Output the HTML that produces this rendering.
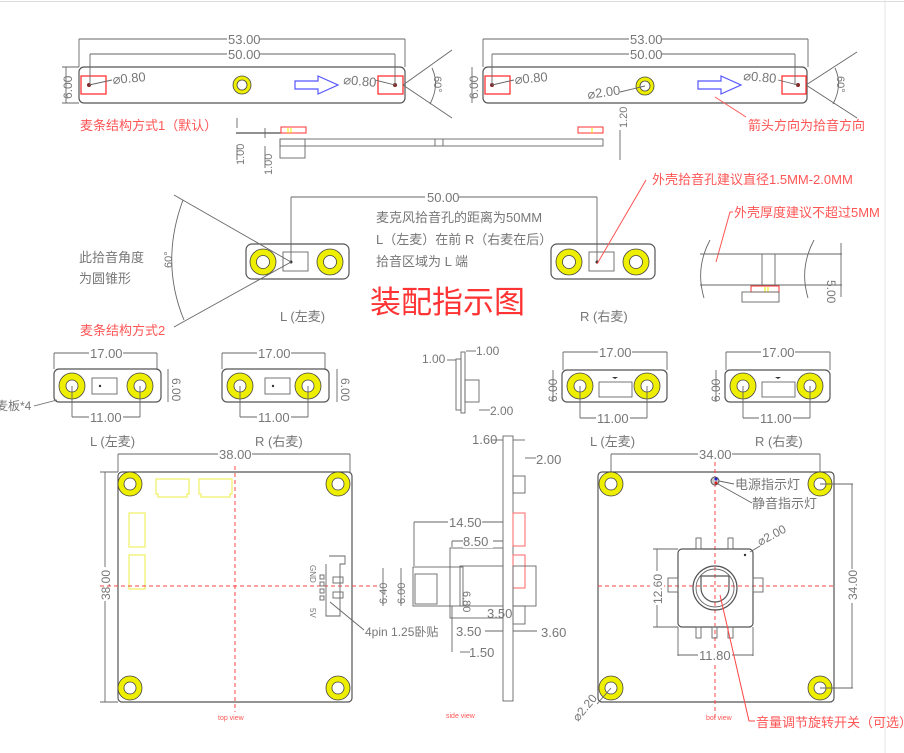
<!DOCTYPE html>
<html><head><meta charset="utf-8"><style>
html,body{margin:0;padding:0;background:#fff;width:904px;height:753px;overflow:hidden}
svg{display:block}
text{font-family:"Liberation Sans","Noto Sans CJK SC",sans-serif;fill:#777}
.r{fill:#f55}
.l{stroke:#555;stroke-width:1.2;fill:none}
.t{stroke:#666;stroke-width:0.9;fill:none}
.ring{fill:#ee0;stroke:#444;stroke-width:.8}
.hole{fill:#fff;stroke:#444;stroke-width:.8}
.rd{stroke:#f33;fill:none;stroke-width:1.3}
.dash{stroke:#f44;stroke-width:1;stroke-dasharray:4 3;fill:none}
</style></head><body>
<svg width="904" height="753" viewBox="0 0 904 753" xmlns="http://www.w3.org/2000/svg">
<line x1="0" y1="1.5" x2="904" y2="1.5" stroke="#ddd"/>
<line x1="885" y1="0" x2="885" y2="753" stroke="#e6e6e6"/>

<g>
<rect x="79" y="67" width="326" height="36" rx="5" class="l"/>
<rect x="81" y="76" width="25" height="18" class="rd"/>
<rect x="378" y="76" width="25" height="18" class="rd"/>
<circle cx="89" cy="85" r="2" fill="#822"/><circle cx="395" cy="85" r="2" fill="#822"/>
<line x1="89" y1="85" x2="112" y2="80" class="t"/><line x1="395" y1="85" x2="375" y2="80" class="t"/>
<text x="113" y="84" font-size="13" transform="rotate(-5 113 84)">⌀0.80</text>
<text x="343" y="84" font-size="13" transform="rotate(5 343 84)">⌀0.80</text>
<circle cx="242" cy="85" r="9" class="ring"/><circle cx="242" cy="85" r="5" class="hole"/>
<path d="M295 81h23v-5l20 9-20 9v-5h-23z" fill="none" stroke="#55f" stroke-width="1.2"/>
<line x1="79" y1="39" x2="405" y2="39" class="t"/><line x1="79" y1="39" x2="79" y2="67" class="t"/><line x1="405" y1="39" x2="405" y2="67" class="t"/>
<rect x="227" y="31" width="32" height="14" fill="#fff"/><text x="228" y="44" font-size="13">53.00</text>
<line x1="90" y1="54" x2="395" y2="54" class="t"/><line x1="90" y1="54" x2="90" y2="85" class="t"/><line x1="395" y1="54" x2="395" y2="85" class="t"/>
<rect x="227" y="46" width="32" height="14" fill="#fff"/><text x="228" y="59" font-size="13">50.00</text>
<line x1="66" y1="67" x2="66" y2="103" class="t"/><line x1="62" y1="67" x2="79" y2="67" class="t"/><line x1="62" y1="103" x2="79" y2="103" class="t"/>
<text x="72" y="99" font-size="12" transform="rotate(-90 72 99)">6.00</text>
<line x1="403" y1="85" x2="452" y2="50" class="t"/><line x1="403" y1="85" x2="452" y2="118" class="t"/>
<path d="M432 68 Q440 85 430 104" class="t"/>
<text x="434" y="76" font-size="11" transform="rotate(90 434 76)">60°</text>
<text x="80" y="130" font-size="13" class="r">麦条结构方式1（默认）</text>
</g>

<g>
<line x1="236" y1="133" x2="306" y2="133" stroke="#222" stroke-width="1"/>
<rect x="281" y="127" width="25" height="6" fill="#fff" stroke="#f33"/>
<line x1="288" y1="128" x2="288" y2="133" stroke="#ee0"/><line x1="291" y1="128" x2="291" y2="133" stroke="#ee0"/>
<rect x="280" y="139" width="323" height="7" class="t"/>
<line x1="435" y1="139" x2="435" y2="146" class="t"/><line x1="443" y1="139" x2="443" y2="146" class="t"/>
<rect x="280" y="139" width="25" height="19" class="t"/>
<line x1="237" y1="118" x2="237" y2="128" class="t"/><line x1="265" y1="128" x2="265" y2="138" class="t"/>
<line x1="237" y1="145" x2="237" y2="160" class="t"/><line x1="265" y1="146" x2="265" y2="168" class="t"/>
<text x="244" y="165" font-size="11" transform="rotate(-90 244 165)">1.00</text>
<text x="272" y="175" font-size="11" transform="rotate(-90 272 175)">1.00</text>
<rect x="578" y="127" width="25" height="6" fill="#fff" stroke="#f33"/>
<line x1="592" y1="128" x2="592" y2="133" stroke="#ee0"/>
<line x1="620" y1="130" x2="620" y2="160" class="t"/>
<text x="627" y="128" font-size="11" transform="rotate(-90 627 128)">1.20</text>
</g>

<g>
<rect x="483" y="67" width="324" height="36" rx="5" class="l"/>
<rect x="485" y="76" width="25" height="18" class="rd"/>
<rect x="782" y="76" width="24" height="18" class="rd"/>
<circle cx="492" cy="85" r="2" fill="#822"/><circle cx="798" cy="85" r="2" fill="#822"/>
<line x1="492" y1="85" x2="514" y2="80" class="t"/><line x1="798" y1="85" x2="778" y2="80" class="t"/>
<text x="515" y="84" font-size="13" transform="rotate(-5 515 84)">⌀0.80</text>
<text x="743" y="80" font-size="13" transform="rotate(5 743 80)">⌀0.80</text>
<circle cx="645" cy="86" r="9" class="ring"/><circle cx="645" cy="86" r="5" class="hole"/>
<line x1="620" y1="92" x2="645" y2="86" class="t"/>
<text x="588" y="99" font-size="13" transform="rotate(-8 588 99)">⌀2.00</text>
<path d="M698 81h23v-5l20 9-20 9v-5h-23z" fill="none" stroke="#55f" stroke-width="1.2"/>
<line x1="715" y1="97" x2="746" y2="117" stroke="#f55"/>
<text x="748" y="130" font-size="13" class="r">箭头方向为拾音方向</text>
<line x1="483" y1="39" x2="808" y2="39" class="t"/><line x1="483" y1="39" x2="483" y2="67" class="t"/><line x1="808" y1="39" x2="808" y2="67" class="t"/>
<rect x="629" y="31" width="32" height="14" fill="#fff"/><text x="630" y="44" font-size="13">53.00</text>
<line x1="492" y1="54" x2="795" y2="54" class="t"/><line x1="492" y1="54" x2="492" y2="85" class="t"/><line x1="795" y1="54" x2="795" y2="85" class="t"/>
<rect x="629" y="46" width="32" height="14" fill="#fff"/><text x="630" y="59" font-size="13">50.00</text>
<line x1="472" y1="67" x2="472" y2="103" class="t"/>
<text x="478" y="99" font-size="12" transform="rotate(-90 478 99)">6.00</text>
<line x1="806" y1="85" x2="857" y2="52" class="t"/><line x1="806" y1="85" x2="857" y2="118" class="t"/>
<path d="M835 68 Q843 85 833 104" class="t"/>
<text x="837" y="76" font-size="11" transform="rotate(90 837 76)">60°</text>
</g>

<g>
<line x1="291" y1="197" x2="597" y2="197" class="t"/><line x1="291" y1="197" x2="291" y2="262" class="t"/><line x1="597" y1="197" x2="597" y2="262" class="t"/>
<rect x="425" y="189" width="34" height="14" fill="#fff"/><text x="427" y="202" font-size="13">50.00</text>
<text x="376" y="222" font-size="13">麦克风拾音孔的距离为50MM</text>
<text x="376" y="244" font-size="13">L（左麦）在前  R（右麦在后）</text>
<text x="376" y="266" font-size="13">拾音区域为 L 端</text>
<text x="370" y="313" font-size="31" class="r" style="fill:#f33">装配指示图</text>

<rect x="246" y="244" width="103" height="35" rx="6" class="l"/>
<circle cx="263" cy="262" r="13" class="ring"/><circle cx="263" cy="262" r="6.5" class="hole"/>
<circle cx="330" cy="262" r="13" class="ring"/><circle cx="330" cy="262" r="6.5" class="hole"/>
<rect x="283" y="252" width="25" height="19" class="t"/>
<circle cx="291" cy="262" r="1.5" fill="#333"/>
<line x1="291" y1="262" x2="174" y2="195" class="t"/><line x1="291" y1="262" x2="174" y2="327" class="t"/>
<path d="M183 200 Q160 262 184 320" class="t"/>
<text x="166" y="262" font-size="11" transform="rotate(-90 172 262)">60°</text>
<text x="79" y="262" font-size="13">此拾音角度</text>
<text x="79" y="283" font-size="13">为圆锥形</text>
<text x="280" y="321" font-size="13">L (左麦)</text>
<text x="80" y="335" font-size="13" class="r">麦条结构方式2</text>

<rect x="551" y="244" width="104" height="35" rx="6" class="l"/>
<circle cx="569" cy="262" r="13" class="ring"/><circle cx="569" cy="262" r="6.5" class="hole"/>
<circle cx="636" cy="262" r="13" class="ring"/><circle cx="636" cy="262" r="6.5" class="hole"/>
<rect x="589" y="252" width="25" height="19" class="t"/>
<circle cx="597" cy="262" r="1.5" fill="#333"/>
<text x="580" y="321" font-size="13">R (右麦)</text>
<line x1="597" y1="264" x2="646" y2="180" stroke="#f55"/>
<text x="652" y="184" font-size="13" class="r">外壳拾音孔建议直径1.5MM-2.0MM</text>
<path d="M733 212 h-3 L716 262" stroke="#f55" fill="none"/>
<text x="734" y="217" font-size="13" class="r">外壳厚度建议不超过5MM</text>

<line x1="700" y1="254" x2="842" y2="254" class="t"/><line x1="700" y1="285" x2="842" y2="285" class="t"/>
<path d="M710 240 Q695 268 704 298" class="t"/><path d="M814 240 Q799 268 808 298" class="t"/>
<rect x="762" y="254" width="13" height="31" class="t"/>
<rect x="751" y="286" width="28" height="6" fill="#fff" stroke="#f33"/>
<line x1="765" y1="287" x2="765" y2="292" stroke="#ee0"/><line x1="768" y1="287" x2="768" y2="292" stroke="#ee0"/>
<rect x="742" y="292" width="37" height="10" class="t"/>
<line x1="841" y1="243" x2="841" y2="297" class="t"/>
<text x="845" y="278" font-size="12" transform="rotate(90 835 270)">5.00</text>
</g>

<g font-size="12">
<g>
<rect x="54" y="369" width="107" height="33" rx="5" class="l"/>
<circle cx="72" cy="386" r="13" class="ring"/><circle cx="72" cy="386" r="6" class="hole"/>
<circle cx="140" cy="386" r="13" class="ring"/><circle cx="140" cy="386" r="6" class="hole"/>
<rect x="92" y="378" width="25" height="16" class="t"/><circle cx="100" cy="386" r="1.2" fill="#333"/>
<line x1="54" y1="353" x2="157" y2="353" class="t"/><line x1="54" y1="353" x2="54" y2="369" class="t"/><line x1="157" y1="353" x2="157" y2="369" class="t"/>
<rect x="89" y="346" width="34" height="14" fill="#fff"/><text x="90" y="358" font-size="13">17.00</text>
<line x1="72" y1="386" x2="72" y2="417" class="t"/><line x1="140" y1="386" x2="140" y2="417" class="t"/><line x1="72" y1="417" x2="140" y2="417" class="t"/>
<rect x="89" y="410" width="34" height="14" fill="#fff"/><text x="90" y="422" font-size="13">11.00</text>
<line x1="168" y1="369" x2="168" y2="402" class="t"/>
<text x="172" y="378" font-size="12" transform="rotate(90 172 378)">6.00</text>
<text x="-4" y="410" font-size="12">麦板*4</text><line x1="34" y1="406" x2="57" y2="400" class="t"/>
<text x="90" y="446" font-size="13">L (左麦)</text>
</g>
<g>
<rect x="222" y="369" width="107" height="33" rx="5" class="l"/>
<circle cx="240" cy="386" r="13" class="ring"/><circle cx="240" cy="386" r="6" class="hole"/>
<circle cx="308" cy="386" r="13" class="ring"/><circle cx="308" cy="386" r="6" class="hole"/>
<rect x="265" y="378" width="25" height="16" class="t"/><circle cx="273" cy="386" r="1.2" fill="#333"/>
<line x1="222" y1="353" x2="325" y2="353" class="t"/><line x1="222" y1="353" x2="222" y2="369" class="t"/><line x1="325" y1="353" x2="325" y2="369" class="t"/>
<rect x="257" y="346" width="34" height="14" fill="#fff"/><text x="258" y="358" font-size="13">17.00</text>
<line x1="240" y1="386" x2="240" y2="417" class="t"/><line x1="308" y1="386" x2="308" y2="417" class="t"/><line x1="240" y1="417" x2="308" y2="417" class="t"/>
<rect x="257" y="410" width="34" height="14" fill="#fff"/><text x="258" y="422" font-size="13">11.00</text>
<line x1="337" y1="369" x2="337" y2="402" class="t"/>
<text x="341" y="378" font-size="12" transform="rotate(90 341 378)">6.00</text>
<text x="255" y="446" font-size="13">R (右麦)</text>
</g>
<g>
<rect x="562" y="370" width="105" height="32" rx="5" class="l"/>
<circle cx="580" cy="386" r="13" class="ring"/><circle cx="580" cy="386" r="6" class="hole"/>
<circle cx="647" cy="386" r="13" class="ring"/><circle cx="647" cy="386" r="6" class="hole"/>
<rect x="599" y="382" width="33" height="15" class="t"/><path d="M612 377l3 2 3-2z" fill="#333"/>
<line x1="563" y1="352" x2="667" y2="352" class="t"/><line x1="563" y1="352" x2="563" y2="370" class="t"/><line x1="667" y1="352" x2="667" y2="370" class="t"/>
<rect x="598" y="345" width="34" height="14" fill="#fff"/><text x="599" y="357" font-size="13">17.00</text>
<line x1="580" y1="386" x2="580" y2="418" class="t"/><line x1="647" y1="386" x2="647" y2="418" class="t"/><line x1="580" y1="418" x2="647" y2="418" class="t"/>
<rect x="596" y="411" width="34" height="14" fill="#fff"/><text x="597" y="423" font-size="13">11.00</text>
<line x1="553" y1="370" x2="553" y2="402" class="t"/>
<text x="557" y="402" font-size="12" transform="rotate(-90 557 402)">6.00</text>
<text x="590" y="446" font-size="13">L (左麦)</text>
</g>
<g>
<rect x="725" y="370" width="105" height="32" rx="5" class="l"/>
<circle cx="743" cy="386" r="13" class="ring"/><circle cx="743" cy="386" r="6" class="hole"/>
<circle cx="810" cy="386" r="13" class="ring"/><circle cx="810" cy="386" r="6" class="hole"/>
<rect x="762" y="382" width="33" height="15" class="t"/><path d="M775 377l3 2 3-2z" fill="#333"/>
<line x1="726" y1="352" x2="830" y2="352" class="t"/><line x1="726" y1="352" x2="726" y2="370" class="t"/><line x1="830" y1="352" x2="830" y2="370" class="t"/>
<rect x="761" y="345" width="34" height="14" fill="#fff"/><text x="762" y="357" font-size="13">17.00</text>
<line x1="743" y1="386" x2="743" y2="418" class="t"/><line x1="810" y1="386" x2="810" y2="418" class="t"/><line x1="743" y1="418" x2="810" y2="418" class="t"/>
<rect x="759" y="411" width="34" height="14" fill="#fff"/><text x="760" y="423" font-size="13">11.00</text>
<line x1="716" y1="370" x2="716" y2="402" class="t"/>
<text x="720" y="402" font-size="12" transform="rotate(-90 720 402)">6.00</text>
<text x="755" y="446" font-size="13">R (右麦)</text>
</g>
<g>
<rect x="456" y="359" width="5" height="51" class="t"/>
<rect x="461" y="352" width="4" height="61" class="t"/>
<rect x="465" y="380" width="14" height="22" class="t"/>
<line x1="447" y1="360" x2="456" y2="360" class="t"/><line x1="466" y1="351" x2="476" y2="351" class="t"/>
<text x="422" y="363" font-size="12">1.00</text><text x="476" y="355" font-size="12">1.00</text>
<line x1="479" y1="410" x2="490" y2="410" class="t"/><text x="490" y="415" font-size="12">2.00</text>
</g>
</g>

<g>
<rect x="118" y="472" width="234" height="230" rx="4" class="l"/>
<line x1="118" y1="454" x2="350" y2="454" class="t"/><line x1="118" y1="454" x2="118" y2="472" class="t"/><line x1="350" y1="454" x2="350" y2="472" class="t"/>
<rect x="218" y="447" width="34" height="14" fill="#fff"/><text x="219" y="459" font-size="13">38.00</text>
<line x1="105" y1="472" x2="105" y2="702" class="t"/><line x1="100" y1="472" x2="118" y2="472" class="t"/><line x1="100" y1="702" x2="118" y2="702" class="t"/>
<rect x="98" y="567" width="14" height="34" fill="#fff"/>
<text x="110" y="600" font-size="12" transform="rotate(-90 110 600)">38.00</text>
<circle cx="130" cy="484" r="12" class="ring"/><circle cx="130" cy="484" r="6" class="hole"/>
<circle cx="338" cy="484" r="12" class="ring"/><circle cx="338" cy="484" r="6" class="hole"/>
<circle cx="130" cy="688" r="12" class="ring"/><circle cx="130" cy="688" r="6" class="hole"/>
<circle cx="338" cy="688" r="12" class="ring"/><circle cx="338" cy="688" r="6" class="hole"/>
<path d="M156 479h33v15h-2v3h-29v-3h-2z" fill="none" stroke="#ee4" stroke-width="1"/>
<path d="M199 479h33v15h-2v3h-29v-3h-2z" fill="none" stroke="#ee4" stroke-width="1"/>
<path d="M129 513h16v34h-16z" fill="none" stroke="#ee4"/>
<path d="M129 555h16v34h-16z" fill="none" stroke="#ee4"/>
<line x1="235" y1="466" x2="235" y2="712" class="dash"/>
<line x1="100" y1="586" x2="380" y2="586" class="dash"/>
<path d="M329 556h16v8h-5v52h-14v-52" class="t"/>
<rect x="333" y="577" width="10" height="6" class="t"/><rect x="333" y="592" width="10" height="6" class="t"/>
<rect x="320" y="575" width="4" height="4" class="t"/><rect x="320" y="582" width="4" height="4" class="t"/><rect x="320" y="589" width="4" height="4" class="t"/><rect x="320" y="596" width="4" height="4" class="t"/>
<text x="310" y="565" font-size="8" transform="rotate(90 310 565)">GND</text>
<text x="310" y="608" font-size="8" transform="rotate(90 310 608)">5V</text>
<line x1="330" y1="602" x2="364" y2="630" class="t"/>
<text x="365" y="636" font-size="12">4pin 1.25卧贴</text>
<text x="218" y="720" font-size="7" class="r">top view</text>
</g>

<g>
<rect x="503" y="436" width="10" height="265" class="t"/>
<rect x="513" y="476" width="12" height="17" class="t"/>
<rect x="513" y="513" width="12" height="33" stroke="#f66" fill="none"/>
<rect x="513" y="555" width="12" height="33" stroke="#f66" fill="none"/>
<rect x="513" y="566" width="23" height="40" class="t"/>
<rect x="513" y="606" width="12" height="18" class="t"/>
<rect x="450" y="548" width="53" height="70" class="t"/>
<rect x="460" y="566" width="43" height="40" class="t"/>
<rect x="413" y="567" width="50" height="39" class="t"/>
<rect x="415" y="574" width="22" height="30" class="t"/>
<line x1="414" y1="522" x2="414" y2="566" class="t"/><line x1="414" y1="522" x2="503" y2="522" class="t"/>
<rect x="448" y="515" width="34" height="14" fill="#fff"/><text x="449" y="527" font-size="13">14.50</text>
<line x1="452" y1="541" x2="452" y2="547" class="t"/><line x1="452" y1="541" x2="503" y2="541" class="t"/>
<line x1="452" y1="606" x2="452" y2="652" class="t"/>
<rect x="463" y="534" width="30" height="14" fill="#fff"/><text x="463" y="546" font-size="13">8.50</text>
<line x1="383" y1="568" x2="383" y2="606" class="t"/><line x1="401" y1="568" x2="401" y2="606" class="t"/>
<text x="387" y="604" font-size="11" transform="rotate(-90 387 604)">6.40</text>
<text x="405" y="604" font-size="11" transform="rotate(-90 405 604)">6.00</text>
<text x="477" y="593" font-size="11" transform="rotate(90 471 585)">6.80</text>
<text x="487" y="618" font-size="13">3.50</text>
<text x="456" y="636" font-size="13">3.50</text>
<line x1="485" y1="631" x2="503" y2="631" class="t"/>
<text x="469" y="657" font-size="13">1.50</text>
<line x1="460" y1="652" x2="470" y2="652" class="t"/>
<line x1="513" y1="631" x2="537" y2="631" class="t"/>
<text x="541" y="637" font-size="13">3.60</text>
<text x="472" y="444" font-size="13">1.60</text>
<line x1="492" y1="440" x2="503" y2="440" class="t"/><line x1="513" y1="440" x2="525" y2="440" class="t"/>
<line x1="525" y1="458" x2="536" y2="458" class="t"/><text x="536" y="464" font-size="13">2.00</text>
<text x="446" y="718" font-size="7" class="r">side view</text>
</g>

<g>
<rect x="598" y="472" width="236" height="230" rx="4" class="l"/>
<line x1="611" y1="454" x2="820" y2="454" class="t"/><line x1="611" y1="454" x2="611" y2="484" class="t"/><line x1="820" y1="454" x2="820" y2="484" class="t"/>
<rect x="698" y="447" width="34" height="14" fill="#fff"/><text x="699" y="459" font-size="13">34.00</text>
<circle cx="611" cy="484" r="12" class="ring"/><circle cx="611" cy="484" r="6" class="hole"/>
<circle cx="820" cy="484" r="12" class="ring"/><circle cx="820" cy="484" r="6" class="hole"/>
<circle cx="611" cy="688" r="12" class="ring"/><circle cx="611" cy="688" r="6" class="hole"/>
<circle cx="820" cy="688" r="12" class="ring"/><circle cx="820" cy="688" r="6" class="hole"/>
<line x1="820" y1="484" x2="853" y2="484" class="t"/><line x1="820" y1="688" x2="853" y2="688" class="t"/><line x1="852" y1="484" x2="852" y2="688" class="t"/>
<rect x="845" y="569" width="14" height="34" fill="#fff"/>
<text x="857" y="600" font-size="12" transform="rotate(-90 857 600)">34.00</text>
<line x1="715" y1="462" x2="715" y2="718" class="dash"/>
<line x1="598" y1="586" x2="834" y2="586" class="dash"/>
<circle cx="715" cy="481" r="4" fill="#ccc" stroke="#555"/><circle cx="716" cy="479" r="1.5" fill="#22c"/><circle cx="716" cy="483" r="1.5" fill="#c22"/>
<line x1="719" y1="481" x2="734" y2="484" class="t"/><line x1="718" y1="484" x2="752" y2="503" class="t"/>
<text x="735" y="489" font-size="13">电源指示灯</text>
<text x="752" y="508" font-size="13">静音指示灯</text>
<rect x="678" y="549" width="75" height="78" rx="4" class="l"/>
<rect x="696" y="538" width="5" height="11" class="t"/><rect x="728" y="538" width="5" height="11" class="t"/>
<rect x="668" y="578" width="10" height="14" class="t"/><rect x="753" y="578" width="10" height="14" class="t"/>
<rect x="696" y="627" width="5" height="11" class="t"/><rect x="712" y="627" width="5" height="11" class="t"/><rect x="728" y="627" width="5" height="11" class="t"/>
<circle cx="715" cy="588" r="22" class="l"/><circle cx="715" cy="588" r="19" class="t"/>
<path d="M701 576h28v12a14 14 0 0 1-28 0z" class="l"/>
<circle cx="745" cy="555" r="1.2" fill="#333"/>
<line x1="750" y1="552" x2="760" y2="546" class="t"/>
<text x="760" y="546" font-size="12" transform="rotate(-28 760 546)">⌀2.00</text>
<line x1="657" y1="549" x2="657" y2="627" class="t"/><line x1="653" y1="549" x2="678" y2="549" class="t"/><line x1="653" y1="627" x2="678" y2="627" class="t"/>
<rect x="650" y="571" width="14" height="34" fill="#fff"/>
<text x="662" y="604" font-size="12" transform="rotate(-90 662 604)">12.60</text>
<line x1="678" y1="627" x2="678" y2="656" class="t"/><line x1="753" y1="627" x2="753" y2="656" class="t"/><line x1="678" y1="655" x2="753" y2="655" class="t"/>
<rect x="698" y="648" width="34" height="14" fill="#fff"/><text x="699" y="660" font-size="13">11.80</text>
<line x1="720" y1="595" x2="749" y2="721" stroke="#f44"/><line x1="749" y1="721" x2="755" y2="721" stroke="#f44"/>
<text x="756" y="727" font-size="13" class="r">音量调节旋转开关（可选）</text>
<line x1="611" y1="688" x2="597" y2="704" class="t"/>
<text x="578" y="722" font-size="12" transform="rotate(-50 578 722)">⌀2.20</text>
<text x="706" y="720" font-size="7" class="r">bot view</text>
</g>
</svg>
</body></html>
